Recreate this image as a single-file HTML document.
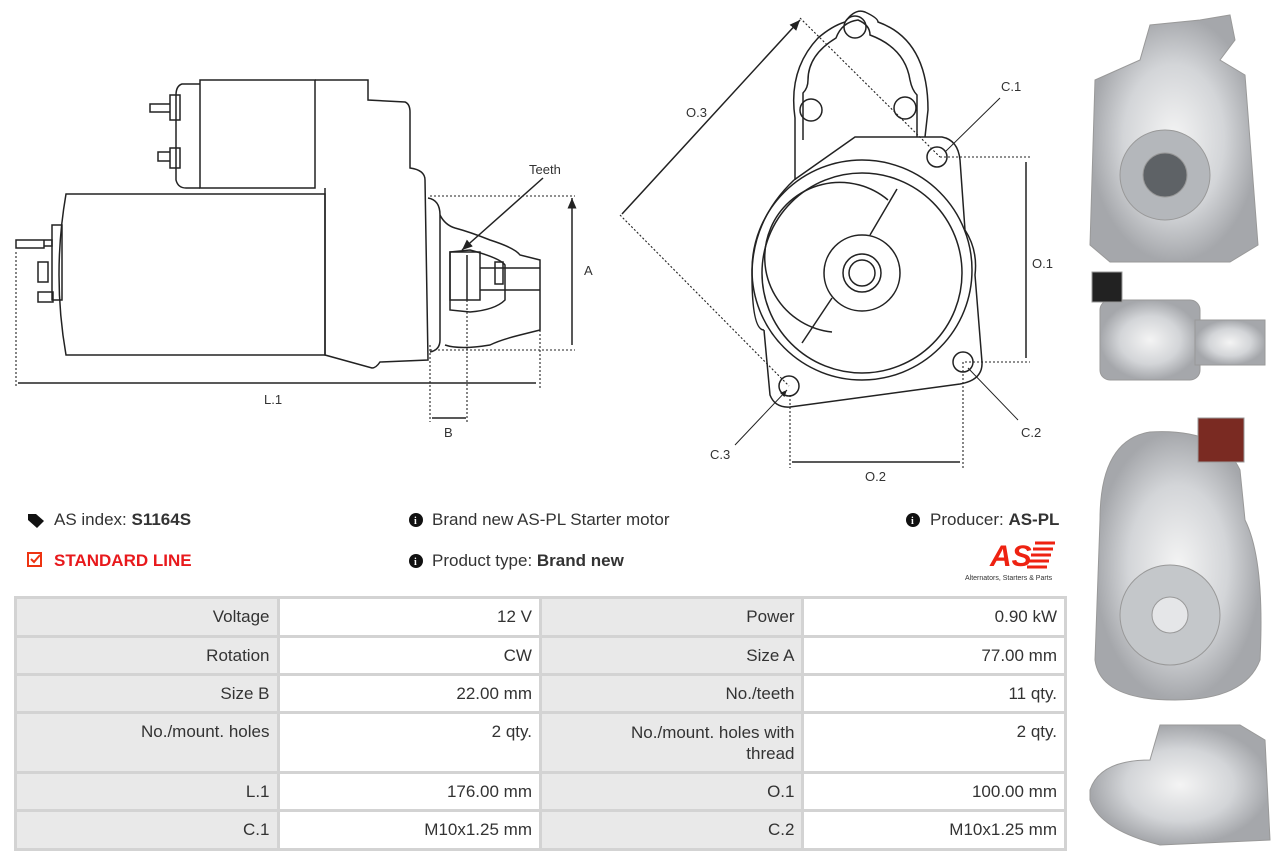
<!DOCTYPE html>
<html><head><style>
body{margin:0;width:1278px;height:860px;background:#fff;position:relative;font-family:"Liberation Sans",Arial,sans-serif;overflow:hidden;color:#333}
.t{position:absolute;font-size:17px;white-space:nowrap}
table{position:absolute;left:14px;top:596px;border-collapse:collapse;width:1053px}
td{border:3px solid #d3d3d3;font-size:17px;text-align:right;padding:0 7px;color:#333;height:35px;box-sizing:border-box}
td.l{background:#e9e9e9;width:263px}
td.v{background:#fff;width:263px}
</style></head><body>
<svg width="1278" height="860" style="position:absolute;left:0;top:0" fill="none" stroke="#222" stroke-width="1.5">
<defs><marker id="a" markerWidth="8" markerHeight="8" refX="7" refY="4" orient="auto-start-reverse"><path d="M0,1 L7,4 L0,7z" fill="#222" stroke="none"/></marker>
<radialGradient id="g"><stop offset="0" stop-color="#f4f4f4"/><stop offset=".6" stop-color="#d3d5d8"/><stop offset="1" stop-color="#a5a7ab"/></radialGradient></defs>
<!-- side view -->
<path d="M66,194 L325,194 L325,355 L66,355 Q52,275 66,194z"/>
<rect x="200" y="80" width="115" height="108"/>
<path d="M200,84 L182,84 Q176,86 176,95 L176,180 Q178,188 186,188 L200,188"/>
<path d="M170,95h10v25h-10zM150,104h20v8h-20zM170,148h10v20h-10zM158,152h12v9h-12z"/>
<path d="M44,240h8v6h-8zM16,240h28v8h-28zM38,262h10v20h-10zM38,292h15v10h-15z"/>
<path d="M52,225h10v75h-10z"/>
<path d="M315,80 L368,80 L368,100 L405,102 Q410,104 410,112 L410,168 Q425,170 425,180 L428,360 L380,362 Q376,368 372,368 L325,355 L325,188"/>
<path d="M428,198 Q440,200 440,215 L440,340 Q440,350 430,352"/>
<path d="M440,215 Q445,225 455,228 Q470,232 490,240 Q515,248 520,255 L540,260 L540,330 L520,335 Q500,340 490,345 Q460,350 445,345"/>
<path d="M450,252 L470,250 Q500,258 505,265 L505,300 Q495,310 470,312 L450,310z"/>
<path d="M450,252 L480,252 L480,300 L450,300z M467,255v45 M480,268h60 M480,290h60"/>
<rect x="495" y="262" width="8" height="22"/>
<g stroke-dasharray="2,2" stroke-width="1.1">
<path d="M430,196H575M430,350H575M16,252V388M540,330V390M430,345V422M467,300V422"/>
<path d="M790,395V468M963,362V468M940,157H1030M965,362H1030M800,18L940,157M620,215L789,386"/>
</g>
<path d="M572,198V345M18,383H536M432,418H466M1026,162V358M792,462H960M622,214L800,20" marker-start="url(#a)" marker-end="url(#a)"/>
<path d="M543,178L462,250" marker-end="url(#a)"/>
<!-- front view -->
<path d="M795,180 L795,118 Q788,70 818,38 Q832,26 845,22 Q855,8 865,12 Q878,18 878,22 Q928,40 928,110 L925,137"/>
<path d="M803,140 L803,93 Q808,88 808,80 Q808,55 836,38 Q842,22 858,20 Q870,25 870,35 Q905,48 910,80 Q912,90 917,95 L917,137"/>
<circle cx="855" cy="27" r="11"/><circle cx="811" cy="110" r="11"/><circle cx="905" cy="108" r="11"/>
<path d="M794,180 L855,137 L942,137 Q958,140 960,160 L965,230 Q978,250 975,275 L982,362 Q983,380 960,384 L790,407 Q775,408 770,395 L764,330"/>
<path d="M794,180 Q752,220 752,275 Q752,330 764,330"/>
<circle cx="862" cy="270" r="110"/><circle cx="862" cy="273" r="100"/>
<path d="M888,200 A75,75 0 1 0 832,332"/>
<path d="M897,189 L870,235 M832,298 L802,343"/>
<circle cx="862" cy="273" r="38"/><circle cx="862" cy="273" r="19"/><circle cx="862" cy="273" r="13"/>
<circle cx="937" cy="157" r="10"/><circle cx="963" cy="362" r="10"/><circle cx="789" cy="386" r="10"/>
<path d="M1000,98L945,152M1018,420L968,368M735,445L787,390" stroke-width="1" marker-end="url(#a)"/>
<g fill="#333" stroke="none" font-family="Liberation Sans" font-size="13">
<text x="529" y="174">Teeth</text><text x="584" y="275">A</text><text x="264" y="404">L.1</text><text x="444" y="437">B</text>
<text x="686" y="117">O.3</text><text x="1001" y="91">C.1</text><text x="1032" y="268">O.1</text><text x="1021" y="437">C.2</text><text x="710" y="459">C.3</text><text x="865" y="481">O.2</text>
</g>
<!-- photos -->
<g stroke="#999" stroke-width="1">
<path d="M1095,80 L1140,60 L1150,25 L1200,20 L1230,15 L1235,40 L1220,60 L1245,75 L1258,245 L1230,262 L1110,262 L1090,245z" fill="url(#g)"/>
<circle cx="1165" cy="175" r="45" fill="#b4b7bb"/><circle cx="1165" cy="175" r="22" fill="#5e6266"/>
<rect x="1100" y="300" width="100" height="80" rx="10" fill="url(#g)"/><rect x="1195" y="320" width="70" height="45" fill="url(#g)"/>
<rect x="1092" y="272" width="30" height="30" fill="#222"/>
<path d="M1100,520 Q1100,440 1150,432 Q1220,428 1240,470 L1245,520 Q1265,560 1260,660 Q1245,700 1175,700 Q1100,700 1095,660z" fill="url(#g)"/>
<rect x="1198" y="418" width="46" height="44" fill="#7a2a22"/>
<circle cx="1170" cy="615" r="50" fill="#c4c7ca"/><circle cx="1170" cy="615" r="18" fill="#e5e6e8"/>
<path d="M1090,790 Q1100,760 1150,760 L1160,725 L1240,725 L1265,740 L1270,840 L1160,845 Q1100,830 1090,800z" fill="url(#g)"/>
</g>
<!-- icons -->
<g fill="#111" stroke="none">
<path d="M28,514 L36,514 L44,521 L37,528 L28,520z"/>
<circle cx="416" cy="520" r="7"/><circle cx="416" cy="561" r="7"/><circle cx="913" cy="520" r="7"/>
</g>
<g fill="#fff" stroke="none" font-size="10" font-weight="bold" font-family="Liberation Serif"><text x="414" y="524">i</text><text x="414" y="565">i</text><text x="911" y="524">i</text></g>
<rect x="28" y="553" width="13" height="13" stroke="#e31" stroke-width="2"/><path d="M31,559l3,3l6,-7" stroke="#e31" stroke-width="2"/>
<text x="990" y="566" fill="#e21" stroke="none" font-size="30" font-weight="bold" font-style="italic" font-family="Liberation Sans">AS</text>
<path d="M1035,543h20M1033,549h20M1031,555h20M1029,561h20M1027,567h20" stroke="#e21" stroke-width="3"/>
<text x="965" y="580" fill="#333" stroke="none" font-size="7" font-family="Liberation Sans">Alternators, Starters &amp; Parts</text>
</svg>
<div class="t" style="left:54px;top:510px">AS index: <b>S1164S</b></div>
<div class="t" style="left:54px;top:551px;color:#e8191c;font-weight:bold">STANDARD LINE</div>
<div class="t" style="left:432px;top:510px">Brand new AS-PL Starter motor</div>
<div class="t" style="left:432px;top:551px">Product type: <b>Brand new</b></div>
<div class="t" style="left:930px;top:510px">Producer: <b>AS-PL</b></div>
<table>
<tr><td class="l" style="height:39px">Voltage</td><td class="v">12 V</td><td class="l">Power</td><td class="v">0.90 kW</td></tr>
<tr><td class="l" style="height:38px">Rotation</td><td class="v">CW</td><td class="l">Size A</td><td class="v">77.00 mm</td></tr>
<tr><td class="l" style="height:38px">Size B</td><td class="v">22.00 mm</td><td class="l">No./teeth</td><td class="v">11 qty.</td></tr>
<tr><td class="l" style="vertical-align:top;height:60px;padding-top:8px">No./mount. holes</td><td class="v" style="vertical-align:top;padding-top:8px">2 qty.</td><td class="l" style="vertical-align:top;padding-top:8px;line-height:21px">No./mount. holes with<br>thread</td><td class="v" style="vertical-align:top;padding-top:8px">2 qty.</td></tr>
<tr><td class="l" style="height:38px">L.1</td><td class="v">176.00 mm</td><td class="l">O.1</td><td class="v">100.00 mm</td></tr>
<tr><td class="l" style="height:39px">C.1</td><td class="v">M10x1.25 mm</td><td class="l">C.2</td><td class="v">M10x1.25 mm</td></tr>
</table>
</body></html>
